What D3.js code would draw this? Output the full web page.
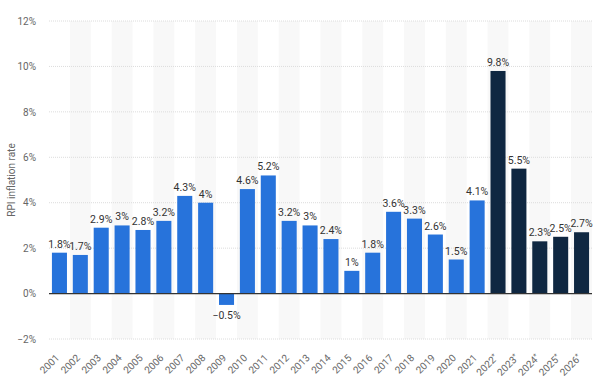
<!DOCTYPE html>
<html><head><meta charset="utf-8">
<script src="https://cdn.jsdelivr.net/npm/d3@7"></script>
<style>body{margin:0;background:#fff;font-family:Roboto,"Open Sans",sans-serif;}</style>
</head><body><svg id="c" width="602" height="383"></svg>
<script>
const years = ["2001","2002","2003","2004","2005","2006","2007","2008","2009","2010","2011","2012","2013","2014","2015","2016","2017","2018","2019","2020","2021","2022*","2023*","2024*","2025*","2026*"];
const values = [1.8,1.7,2.9,3,2.8,3.2,4.3,4,-0.5,4.6,5.2,3.2,3,2.4,1,1.8,3.6,3.3,2.6,1.5,4.1,9.8,5.5,2.3,2.5,2.7];
const forecast = [false,false,false,false,false,false,false,false,false,false,false,false,false,false,false,false,false,false,false,false,false,true,true,true,true,true];
const yTicks = [-2,0,2,4,6,8,10,12];
const yTitle = "RPI inflation rate";

const svg = d3.select("#c");
const L = 49, R = 592, T = 21, B = 339;
const x = d3.scaleBand().domain(years).range([L, R]).paddingInner(0.28).paddingOuter(0.14);
const xb = d3.scaleBand().domain(years).range([L, R]);
const y = d3.scaleLinear().domain([-2, 12]).range([B, T]);

// alternate band shading
svg.append("g").selectAll("rect").data(years.filter((d,i)=>i%2===1)).join("rect")
  .attr("x", d=>xb(d)).attr("width", xb.bandwidth())
  .attr("y", T).attr("height", B-T).attr("fill", "#f8f8f8");

// grid
svg.append("g").selectAll("line").data(yTicks.filter(t=>t!==0)).join("line")
  .attr("x1", L).attr("x2", R).attr("y1", d=>y(d)).attr("y2", d=>y(d))
  .attr("stroke", "#dcdcdc").attr("stroke-width", 1).attr("stroke-dasharray", "1,1");

// y axis
const ya = svg.append("g").attr("transform", `translate(${L-13},0)`)
  .call(d3.axisLeft(y).tickValues(yTicks).tickSize(0).tickFormat(d => (d<0?"\u2212"+(-d):d)+"%"));
ya.select(".domain").remove();
ya.selectAll("text").attr("fill", "#666").attr("font-size", 10).attr("font-family","Roboto,sans-serif").attr("x", 0);

svg.append("text").attr("transform", `translate(12,${(T+B)/2}) rotate(-90)`)
  .attr("text-anchor","middle").attr("dominant-baseline","middle")
  .attr("fill","#666").attr("font-size",10).text(yTitle);

// bars
svg.append("g").selectAll("rect").data(years).join("rect")
  .attr("x", d=>x(d)).attr("width", x.bandwidth())
  .attr("y", (d,i)=>y(Math.max(0, values[i])))
  .attr("height", (d,i)=>Math.abs(y(values[i]) - y(0)))
  .attr("fill", (d,i)=>forecast[i] ? "#0f2741" : "#2773db");

// zero line
svg.append("line").attr("x1", L).attr("x2", R).attr("y1", y(0)).attr("y2", y(0))
  .attr("stroke", "#333").attr("stroke-width", 1.3);

// value labels
svg.append("g").selectAll("text").data(years).join("text")
  .attr("x", d=>x(d)+x.bandwidth()/2)
  .attr("y", (d,i)=> values[i] >= 0 ? y(values[i]) - 5 : y(values[i]) + 14)
  .attr("text-anchor","middle").attr("fill","#333").attr("font-size",10.5).attr("font-weight",400)
  .text((d,i)=> (values[i]<0 ? "\u2212"+(-values[i]) : values[i]) + "%");

// x axis labels
const xa = svg.append("g").attr("transform", `translate(0,${B+5})`)
  .call(d3.axisBottom(x).tickSize(0).tickPadding(0).tickFormat(() => ""));
xa.select(".domain").remove();
xa.selectAll(".tick text").each(function(d){
  const t = d3.select(this);
  t.attr("fill","#666").attr("font-size",10).attr("font-family","Roboto,sans-serif")
   .attr("text-anchor","end").attr("dy","0.35em").attr("y",0)
   .attr("transform","translate(-2,12) rotate(-45)");
  const star = d.endsWith("*");
  t.append("tspan").text(star ? d.slice(0,-1) : d);
  if (star) t.append("tspan").attr("font-size",7).attr("dy","-0.45em").text("*");
});
</script></body></html>
